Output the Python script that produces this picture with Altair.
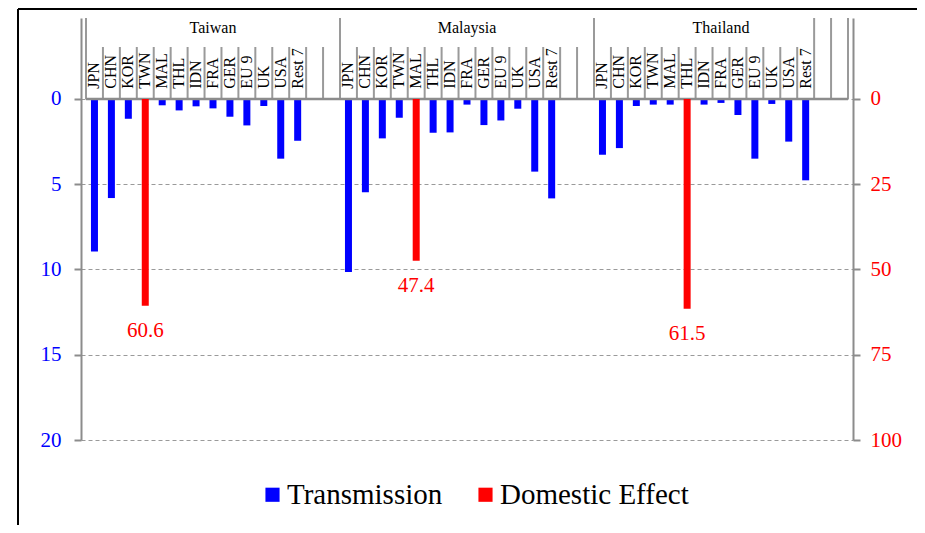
import altair as alt
import pandas as pd

# ---- data ----
panels = ["Taiwan", "Malaysia", "Thailand"]
categories = ["JPN", "CHN", "KOR", "TWN", "MAL", "THL", "IDN", "FRA", "GER", "EU 9", "UK", "USA", "Rest 7"]
domestic_category = ["TWN", "MAL", "THL"]
domestic_values = [60.6, 47.4, 61.5]          # right axis (0-100)

taiwan_transmission = [8.94, 5.81, 1.16, 0.0, 0.37, 0.67, 0.43, 0.55, 1.04, 1.55, 0.41, 3.50, 2.45]
malaysia_transmission = [10.15, 5.47, 2.31, 1.10, 0.0, 1.98, 1.96, 0.33, 1.53, 1.26, 0.57, 4.26, 5.83]
thailand_transmission = [3.27, 2.88, 0.41, 0.33, 0.33, 0.0, 0.33, 0.23, 0.94, 3.50, 0.29, 2.50, 4.77]
transmission = [taiwan_transmission, malaysia_transmission, thailand_transmission]

left_ticks = [0, 5, 10, 15, 20]
right_ticks = [0, 25, 50, 75, 100]

# ---- layout constants ----
SLOTS = 15
TOP = -4.75          # left-scale value at top of plot (header area)
BOX_TOP = -3.05
FONT = "Liberation Serif"
GRAY = "#8c8c8c"
BLUE = "#0000ff"
RED = "#ff0000"

trans_rows, dom_rows, head_rows, bound_rows, title_rows = [], [], [], [], []
for p, panel in enumerate(panels):
    for i, cat in enumerate(categories):
        pos = p * SLOTS + i + 0.5
        head_rows.append({"pos": pos, "cat": cat})
        if cat == domestic_category[p]:
            dom_rows.append({"pos": pos, "value": domestic_values[p],
                             "label": f"{domestic_values[p]:.1f}", "series": "Domestic Effect"})
        else:
            trans_rows.append({"pos": pos, "value": transmission[p][i], "series": "Transmission"})
    for k in range(SLOTS + 1):
        full = k in (0, SLOTS) or (p == 2 and k in (13, 14))
        bound_rows.append({"x": p * SLOTS + k, "top": TOP if full else BOX_TOP, "bottom": 0})
    title_rows.append({"pos": p * SLOTS + SLOTS / 2, "panel": panel, "y": -4.15})

trans_df = pd.DataFrame(trans_rows)
dom_df = pd.DataFrame(dom_rows)
head_df = pd.DataFrame(head_rows)
head_df["y"] = -0.6
bound_df = pd.DataFrame(bound_rows)
title_df = pd.DataFrame(title_rows)

xscale = alt.Scale(domain=[0, SLOTS * 3], nice=False, zero=False)
lscale = alt.Scale(domain=[TOP, 20], reverse=True, nice=False, zero=False)
rscale = alt.Scale(domain=[TOP * 5, 100], reverse=True, nice=False, zero=False)

color_scale = alt.Scale(domain=["Transmission", "Domestic Effect"], range=[BLUE, RED])

left_axis = alt.Axis(values=left_ticks, title=None, labelColor=BLUE, labelFont=FONT,
                     labelFontSize=21, tickColor=GRAY, tickSize=7, tickWidth=2,
                     domainColor=GRAY, domainWidth=2, grid=True, gridColor="#9a9a9a",
                     gridDash=[4, 3], gridWidth=1, labelPadding=13)
right_axis = alt.Axis(orient="right", values=right_ticks, title=None, labelColor=RED,
                      labelFont=FONT, labelFontSize=21, tickColor=GRAY, tickSize=7,
                      tickWidth=2, domainColor=GRAY, domainWidth=2, grid=False,
                      labelPadding=10)

legend = alt.Legend(orient="none", legendX=177, legendY=462, direction="horizontal",
                    title=None, symbolType="square", symbolSize=200, symbolStrokeWidth=0,
                    symbolOpacity=1, labelFont=FONT, labelFontSize=29, labelColor="black",
                    columnPadding=28, labelOffset=0, labelLimit=400)

bars = alt.Chart(trans_df).mark_bar(size=7).encode(
    x=alt.X("pos:Q", scale=xscale, axis=None),
    y=alt.Y("value:Q", scale=lscale, axis=left_axis),
    y2=alt.datum(0),
    color=alt.Color("series:N", scale=color_scale, legend=legend),
)

bounds = alt.Chart(bound_df).mark_rule(color="#9a9a9a", strokeWidth=2).encode(
    x=alt.X("x:Q", scale=xscale),
    y=alt.Y("top:Q", scale=lscale),
    y2="bottom:Q",
)

zero_df = pd.DataFrame({"x": [0], "x2": [SLOTS * 3], "y": [0]})
zero_rule = alt.Chart(zero_df).mark_rule(color=GRAY, strokeWidth=2.5).encode(
    x=alt.X("x:Q", scale=xscale), x2="x2:Q", y=alt.Y("y:Q", scale=lscale),
)

cat_text = alt.Chart(head_df).mark_text(angle=270, align="left", baseline="middle",
                                        font=FONT, fontSize=16, color="black").encode(
    x=alt.X("pos:Q", scale=xscale),
    y=alt.Y("y:Q", scale=lscale),
    text="cat:N",
)

title_text = alt.Chart(title_df).mark_text(align="center", baseline="middle",
                                           font=FONT, fontSize=16, color="black").encode(
    x=alt.X("pos:Q", scale=xscale),
    y=alt.Y("y:Q", scale=lscale),
    text="panel:N",
)

frame_left = alt.Chart(zero_df).mark_rule(color="black", strokeWidth=2).encode(
    x=alt.value(-63), y=alt.value(-9), y2=alt.value(600),
)
frame_top = alt.Chart(zero_df).mark_rule(color="black", strokeWidth=2).encode(
    x=alt.value(-63), x2=alt.value(900), y=alt.value(-9),
)

left_layer = alt.layer(bars, bounds, zero_rule, cat_text, title_text, frame_left, frame_top)

dom_bars = alt.Chart(dom_df).mark_bar(size=7).encode(
    x=alt.X("pos:Q", scale=xscale, axis=None),
    y=alt.Y("value:Q", scale=rscale, axis=right_axis),
    y2=alt.datum(0),
    color=alt.Color("series:N", scale=color_scale, legend=legend),
)
dom_text = alt.Chart(dom_df).mark_text(dy=25, align="center", baseline="middle",
                                       font=FONT, fontSize=21, color=RED).encode(
    x=alt.X("pos:Q", scale=xscale),
    y=alt.Y("value:Q", scale=rscale),
    text="label:N",
)
right_layer = alt.layer(dom_bars, dom_text)

chart = alt.layer(left_layer, right_layer).resolve_scale(y="independent").properties(
    width=772, height=422, autosize="none",
    padding={"left": 73, "top": 10, "right": 64, "bottom": 85},
    background="white",
).configure_view(stroke=None).configure_axis(
    labelFont=FONT, labelFontSize=21
).configure_legend(
    labelFont=FONT, labelFontSize=29, labelLimit=400
).configure_text(font=FONT)

chart.save("out.html", embed_options={"renderer": "svg", "actions": False})
